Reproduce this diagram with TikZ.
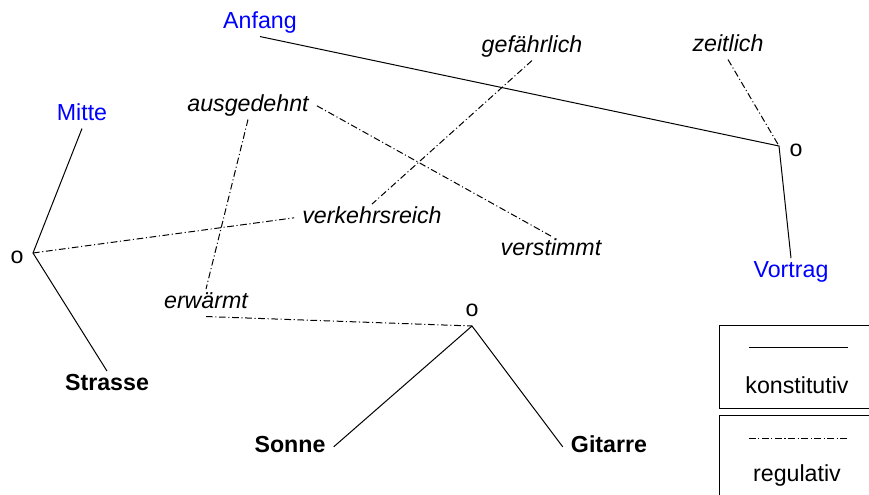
\documentclass[tikz,border=0pt]{standalone}
\usepackage{fontspec}
\setmainfont{Liberation Sans}
\usepackage{tikz}

\begin{document}
\begin{tikzpicture}[x=0.75pt,y=-0.75pt,
  every node/.style={font=\fontsize{17.4}{21}\selectfont, anchor=base,
    inner xsep=6pt, inner ysep=4pt, text height=1em, text depth=0.22em},
  begriff/.style={text=blue},
  merkmal/.style={font=\fontsize{17.4}{21}\selectfont\itshape},
  ding/.style={font=\fontsize{17.4}{21}\selectfont\bfseries},
  konst/.style={line width=0.75pt},
  reg/.style={line width=0.75pt, dash pattern=on 5pt off 2pt on 0.8pt off 2pt}]
\useasboundingbox (0,0) rectangle (869,494);
\clip (0,0) rectangle (869,494);
%\draw [help lines] (0,0) grid (869,494);
% begriffe
\node [begriff] (anfang) at (260,28) {Anfang};
\node [begriff] (mitte) at (82,120) {Mitte};
\node [begriff] (vortrag) at (791,277) {Vortrag};
% merkmale
\node [merkmal] (gefaehrlich) at (532,52) {gefährlich};
\node [merkmal] (zeitlich) at (728,51) {zeitlich};
\node [merkmal] (ausgedehnt) at (248,111) {ausgedehnt};
\node [merkmal] (verkehrsreich) at (372,223) {verkehrsreich};
\node [merkmal] (verstimmt) at (551,255) {verstimmt};
\node [merkmal] (erwaermt) at (206,308) {erwärmt};
% dinge
\node [ding] (strasse) at (107,390) {Strasse};
\node [ding] (sonne) at (290,452) {Sonne};
\node [ding] (gitarre) at (609,452) {Gitarre};
% knoten
\coordinate (jR) at (779,146);
\coordinate (jL) at (33,253);
\coordinate (jM) at (472,326);
\node (oR) at (796,156) {o};
\node (oL) at (17,263) {o};
\node (oM) at (472,316) {o};
% konstitutiv
\draw [konst] (anfang.south) -- (jR) -- (vortrag.north);
\draw [konst] (mitte.south) -- (jL) -- (strasse.north);
\draw [konst] (sonne.east) -- (jM) -- (gitarre.west);
% regulativ
\draw [reg] (zeitlich.south) -- (jR);
\draw [reg] (jL) -- (verkehrsreich.west);
\draw [reg] (gefaehrlich.south) -- (verkehrsreich.north);
\draw [reg] (ausgedehnt.east) -- (verstimmt.north);
\draw [reg] (ausgedehnt.south) -- (erwaermt.north);
\draw [reg] (erwaermt.south) -- (jM);
% legende
\draw [konst] (719,325) rectangle (880,408);
\draw [konst] (719,415) rectangle (880,505);
\draw [konst] (749,347) -- (848,347);
\draw [reg] (749,438) -- (848,438);
\node (konstitutiv) at (797,393) {konstitutiv};
\node (regulativ) at (797,481) {regulativ};
\end{tikzpicture}
\end{document}
